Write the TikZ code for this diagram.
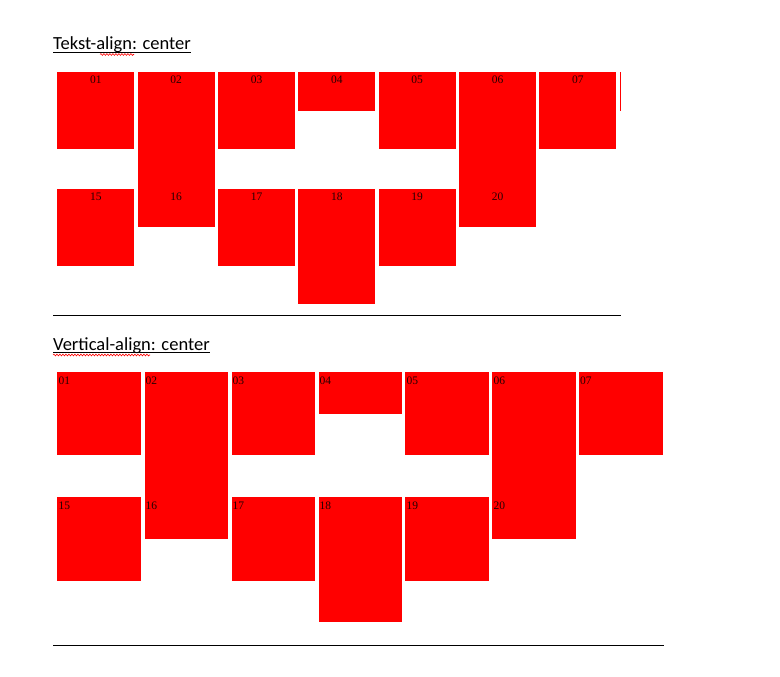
\documentclass[tikz,border=0pt]{standalone}
\usepackage{fontspec}
\setmainfont{Liberation Serif}
\newfontfamily\calib{Carlito}
\usetikzlibrary{decorations.pathmorphing}
\begin{document}
\begin{tikzpicture}[x=1pt,y=-1pt,
  box/.style={fill=red,draw=none,inner sep=0pt,outer sep=0pt,anchor=north west},
  tbox/.style={box,minimum width=77pt},
  bbox/.style={box,minimum width=83.7pt},
  num/.style={inner sep=0pt,font=\fontsize{11.5pt}{12pt}\selectfont,text=black!85!red},
  ttl/.style={inner sep=0pt,anchor=base west,font=\calib\fontsize{18.5pt}{21pt}\selectfont},
  uline/.style={line width=0.9pt},
  squig/.style={red,line width=0.6pt,decorate,decoration={snake,segment length=3pt,amplitude=0.9pt}},
  rule/.style={line width=1pt}]
\useasboundingbox (0,0) rectangle (780,677);
% ---------- top section ----------
\node[ttl] (title1) at (53,50) {Tekst-align: center};
\draw[uline] ([yshift=-2.5pt]title1.base west) -- ([yshift=-2.5pt]title1.base east);
\draw[squig] (100,54.5) -- (134,54.5);
% row 1
\foreach \n/\x/\h in {01/57.3/77,02/137.7/154.5,03/218/77,04/298.3/39,05/378.7/77,06/459/154.5,07/539.3/77}{
  \node[tbox,minimum height=\h pt] (t\n) at (\x,72) {};
}
\foreach \n/\x/\h in {15/57.3/77,16/137.7/38,17/218/77,18/298.3/115.3,19/378.7/77,20/459/38}{
  \node[tbox,minimum height=\h pt] (t\n) at (\x,188.7) {};
}
\foreach \n in {01,02,03,04,05,06,07,15,16,17,18,19,20}{
  \node[num,anchor=base] at ([yshift=-11.5pt]t\n.north) {\n};
}
\node[box,minimum width=1.4pt,minimum height=39pt] (t08) at (619.5,72) {};
\coordinate (r1a) at (53,315.3);
\coordinate (r1b) at (621,315.3);
\draw[rule] (r1a) -- (r1b);
% ---------- bottom section ----------
\node[ttl] (title2) at (53,350) {Vertical-align: center};
\draw[uline] ([yshift=-2.5pt]title2.base west) -- ([yshift=-2.5pt]title2.base east);
\draw[squig] (53,355) -- (150,355);
\foreach \n/\x/\h in {01/57.3/83.3,02/144.5/167,03/231.5/83.3,04/318.5/41.5,05/405.3/83.3,06/492.3/167,07/579/83.3}{
  \node[bbox,minimum height=\h pt] (b\n) at (\x,372) {};
}
\foreach \n/\x/\h in {15/57.3/83.3,16/144.5/41.5,17/231.5/83.3,18/318.5/125,19/405.3/83.3,20/492.3/41.5}{
  \node[bbox,minimum height=\h pt] (b\n) at (\x,497.3) {};
}
\foreach \n in {01,02,03,04,05,06,07,15,16,17,18,19,20}{
  \node[num,anchor=base west] at ([xshift=1pt,yshift=-12pt]b\n.north west) {\n};
}
\coordinate (r2a) at (53,645);
\coordinate (r2b) at (664,645);
\draw[rule] (r2a) -- (r2b);
\end{tikzpicture}
\end{document}
